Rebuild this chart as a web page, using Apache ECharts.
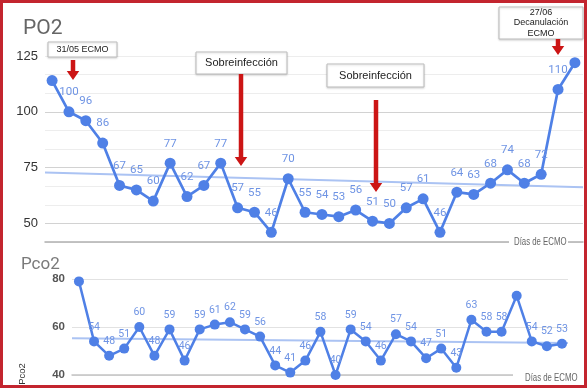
<!DOCTYPE html>
<html><head><meta charset="utf-8">
<script src="https://cdn.jsdelivr.net/npm/echarts@6/dist/echarts.min.js"></script>
<style>html,body{margin:0;padding:0;background:#fff}#c{width:587px;height:388px}</style>
</head><body><div id="c"></div>
<script>
// ---- data ----
const po2Values = [114,100,96,86,67,65,60,77,62,67,77,57,55,46,70,55,54,53,56,51,50,57,61,46,64,63,68,74,68,72,110,122];
const po2Unlabeled = [0,31];
const pco2Values = [79,54,48,51,60,48,59,46,59,61,62,59,56,44,41,46,58,40,59,54,46,57,54,47,51,43,63,58,58,73,54,52,53];
const pco2Unlabeled = [0,29];
const po2Title = 'PO2';
const pco2Title = 'Pco2';
const pco2AxisName = 'Pco2';
const xAxisName = 'Días de ECMO';
const notes = ['31/05 ECMO','Sobreinfección','Sobreinfección','27/06\nDecanulación\nECMO'];

// ---- helpers ----
function fit(vals){
  const n = vals.length; let sx=0, sy=0, sxy=0, sxx=0;
  vals.forEach((v,i)=>{sx+=i; sy+=v; sxy+=i*v; sxx+=i*i;});
  const b = (n*sxy - sx*sy)/(n*sxx - sx*sx);
  const a = (sy - b*sx)/n;
  return x => a + b*x;
}
function pts(vals, unl){
  return vals.map((v,i)=> unl.includes(i) ? {value:[i,v], label:{show:false}} : {value:[i,v]});
}
const topX = {min:-0.42, max:po2Values.length - 0.52};
const botX = {min:-0.46, max:pco2Values.length - 0.6};
const fTop = fit(po2Values), fBot = fit(pco2Values);

const blue = '#4f80e6';
const labBlue = '#6f94e4';
const trendBlue = '#abc3f3';

function arrow(cx, top, tip){
  const sw=4.5, hw=12.5, hl=9;
  return {type:'polygon', z:50, shape:{points:[[cx-sw/2,top],[cx+sw/2,top],[cx+sw/2,tip-hl],[cx+hw/2,tip-hl],[cx,tip],[cx-hw/2,tip-hl],[cx-sw/2,tip-hl]]},
    style:{fill:'#cc1515'}};
}
function box(x,y,w,h,text,fs,lh){
  return [
    {type:'rect', z:40, shape:{x:x,y:y,width:w,height:h}, style:{fill:'#fff', stroke:'#bdbdbd', lineWidth:1, shadowBlur:2, shadowColor:'rgba(0,0,0,0.15)', shadowOffsetY:1}},
    {type:'text', z:41, x:x+w/2, y:y+h/2, style:{text:text, align:'center', verticalAlign:'middle', fontSize:fs, lineHeight:lh||fs+2, fill:'#222', fontFamily:'Liberation Sans, Arial, sans-serif'}}
  ];
}
function axisName(x, y, coverX, coverW){
  return [
    {type:'rect', z:30, shape:{x:coverX, y:y-5, width:coverW, height:10}, style:{fill:'#fff'}},
    {type:'text', z:31, x:x, y:y, scaleX:0.68,
     style:{text:xAxisName, align:'left', verticalAlign:'middle', fontSize:11.5, fill:'#666', fontFamily:'Liberation Sans, Arial, sans-serif'}}
  ];
}

const chart = echarts.init(document.getElementById('c'), null, {renderer:'canvas'});
const option = {
  backgroundColor:'#fff',
  animation:false,
  textStyle:{fontFamily:'Roboto, Liberation Sans, Arial, sans-serif'},
  title:[
    {text:po2Title, left:18, top:13, textStyle:{fontSize:21, fontWeight:'normal', color:'#666'}},
    {text:pco2Title, left:16, top:251, textStyle:{fontSize:17, fontWeight:'normal', color:'#7a7a7a'}}
  ],
  grid:[
    {left:45, right:4, top:56, height:186},
    {left:72, right:19, top:279, height:96}
  ],
  xAxis:[
    {type:'value', gridIndex:0, min:topX.min, max:topX.max,
     axisLine:{show:true, lineStyle:{color:'#b0b0b0', width:1.5}}, axisTick:{show:false}, axisLabel:{show:false}, splitLine:{show:false}},
    {type:'value', gridIndex:1, min:botX.min, max:botX.max,
     axisLine:{show:true, lineStyle:{color:'#c4c4c4', width:1.5}}, axisTick:{show:false}, axisLabel:{show:false}, splitLine:{show:false}}
  ],
  yAxis:[
    {type:'value', gridIndex:0, min:125/3, max:125, interval:25/3,
     axisLine:{show:false}, axisTick:{show:false},
     axisLabel:{margin:7, fontSize:13, color:'#333', fontFamily:'Liberation Sans, Arial, sans-serif',
       formatter:v=>{const r=Math.round(v); return (Math.abs(v-r)<0.01 && r%25===0)? String(r):'';}},
     splitLine:{show:true, lineStyle:{color:['#ededed','#d2d2d2','#ededed'], width:1}}},
    {type:'value', gridIndex:1, min:40, max:80, interval:20,
     axisLine:{show:false}, axisTick:{show:false},
     axisLabel:{margin:7, fontSize:11.5, color:'#555', fontWeight:'bold', fontFamily:'Liberation Sans, Arial, sans-serif'},
     splitLine:{show:true, lineStyle:{color:'#e2e2e2', width:1}}}
  ],
  series:[
    {type:'line', xAxisIndex:0, yAxisIndex:0, silent:true, symbol:'none', z:1,
     lineStyle:{color:trendBlue, width:2}, data:[[topX.min, fTop(topX.min)],[topX.max, fTop(topX.max)]]},
    {type:'line', xAxisIndex:0, yAxisIndex:0, z:3, symbol:'circle', symbolSize:11,
     lineStyle:{color:blue, width:2.7}, itemStyle:{color:blue},
     label:{show:true, position:'top', distance:8, color:labBlue, fontSize:11.5,
       formatter:p=>p.value[1]},
     data:pts(po2Values, po2Unlabeled)},
    {type:'line', xAxisIndex:1, yAxisIndex:1, silent:true, symbol:'none', z:1,
     lineStyle:{color:trendBlue, width:2}, data:[[botX.min, fBot(botX.min)],[botX.max, fBot(botX.max)]]},
    {type:'line', xAxisIndex:1, yAxisIndex:1, z:3, symbol:'circle', symbolSize:10,
     lineStyle:{color:blue, width:2.5}, itemStyle:{color:blue},
     label:{show:true, position:'top', distance:4, color:labBlue, fontSize:10.5,
       formatter:p=>p.value[1]},
     data:pts(pco2Values, pco2Unlabeled)}
  ],
  graphic:[
    ...box(48,42,69,15,notes[0],9),
    arrow(73,60,80),
    ...box(196,52,91,22,notes[1],11),
    arrow(241,74,166),
    ...box(327,64,97,23,notes[2],11),
    arrow(376,100,192),
    ...box(499,7,84,32,notes[3],9,10.5),
    arrow(558,39,55),
    ...axisName(514, 242, 509, 59),
    ...axisName(525, 378, 513, 72),
    {type:'text', z:30, x:22, y:374, rotation:Math.PI/2,
     style:{text:pco2AxisName, align:'center', verticalAlign:'middle', fontSize:9.5, fill:'#333', fontFamily:'Liberation Sans, Arial, sans-serif'}},
    {type:'rect', z:100, shape:{x:1.5, y:1.5, width:584, height:385}, style:{fill:'none', stroke:'#c3252f', lineWidth:3}}
  ]
};
chart.setOption(option);
</script>
</body></html>
